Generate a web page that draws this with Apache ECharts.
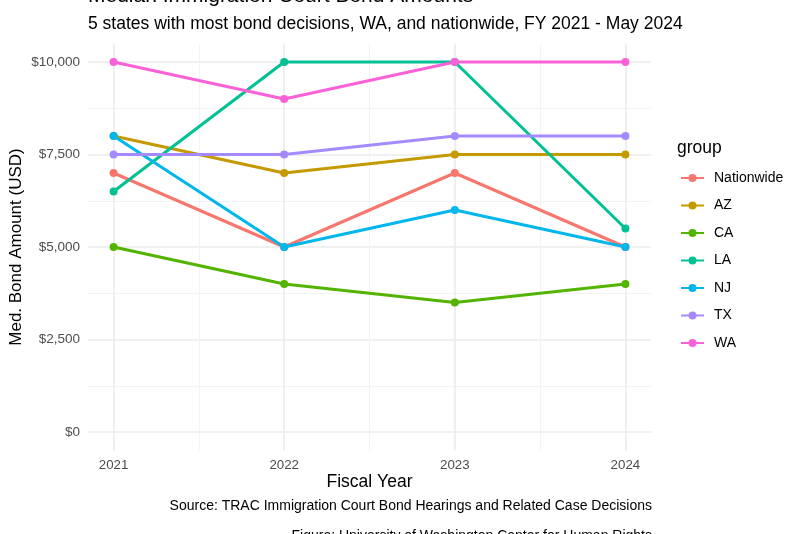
<!DOCTYPE html>
<html>
<head>
<meta charset="utf-8">
<title>Median Immigration Court Bond Amounts</title>
<script src="https://cdn.jsdelivr.net/npm/echarts@6/dist/echarts.min.js"></script>
<style>
    html, body { margin: 0; padding: 0; background: #fff; }
    #main { width: 800px; height: 534px; }
</style>
</head>
<body>
<div id="main"></div>
<script>
// 数据
var years = [2021, 2022, 2023, 2024];
var groups = ['Nationwide', 'AZ', 'CA', 'LA', 'NJ', 'TX', 'WA'];
var nationwide = [7000, 5000, 7000, 5000];
var az = [8000, 7000, 7500, 7500];
var ca = [5000, 4000, 3500, 4000];
var la = [6500, 10000, 10000, 5500];
var nj = [8000, 5000, 6000, 5000];
var tx = [7500, 7500, 8000, 8000];
var wa = [10000, 9000, 10000, 10000];
var yTicks = [0, 2500, 5000, 7500, 10000];
var yMinor = [1250, 3750, 6250, 8750];
var xMinor = [2021.5, 2022.5, 2023.5];

var groupValues = [nationwide, az, ca, la, nj, tx, wa];
var colors = ['#F8766D', '#C49A00', '#53B400', '#00C094', '#00B6EB', '#A58AFF', '#FB61D7'];
var font = 'Liberation Sans, Arial, sans-serif';

var myChart = echarts.init(document.getElementById('main'));

var series = [];
for (var i = 0; i < groups.length; i++) {
    var pts = [];
    for (var j = 0; j < years.length; j++) {
        pts.push([years[j], groupValues[i][j]]);
    }
    series.push({
        name: groups[i],
        type: 'line',
        data: pts,
        symbol: 'circle',
        symbolSize: 8,
        lineStyle: { width: 3, color: colors[i] },
        itemStyle: { color: colors[i] },
        emphasis: { disabled: true },
        animation: false
    });
}

function dollar(v) {
    return '$' + v.toString().replace(/\B(?=(\d{3})+(?!\d))/g, ',');
}

var option = {
    backgroundColor: '#fff',
    animation: false,
    title: [{
        text: 'Median Immigration Court Bond Amounts',
        left: 88,
        top: -14,
        padding: 0,
        textStyle: { fontFamily: font, fontSize: 21, fontWeight: 'normal', color: '#000' }
    }, {
        text: '5 states with most bond decisions, WA, and nationwide, FY 2021 - May 2024',
        left: 88,
        top: 15,
        padding: 0,
        textStyle: { fontFamily: font, fontSize: 17.5, fontWeight: 'normal', color: '#000' }
    }],
    legend: {
        orient: 'vertical',
        left: 680,
        top: 171,
        padding: 0,
        itemWidth: 23,
        itemHeight: 10,
        itemGap: 13.5,
        data: groups,
        textStyle: { fontFamily: font, fontSize: 14, lineHeight: 14, color: '#000', padding: [0, 0, 0, 5] }
    },
    grid: { left: 88, right: 149, top: 43.5, bottom: 83.5, containLabel: false, outerBoundsMode: 'none' },
    xAxis: [{
        type: 'value',
        min: 2020.85,
        max: 2024.15,
        name: 'Fiscal Year',
        nameLocation: 'middle',
        nameGap: 23,
        nameMoveOverlap: false,
        nameTextStyle: { fontFamily: font, fontSize: 17.5, color: '#000' },
        axisLine: { show: false },
        axisTick: { show: false, customValues: years },
        axisLabel: { customValues: years, margin: 8, fontFamily: font, fontSize: 13.3, color: '#4D4D4D', formatter: function (v) { return String(v); } },
        splitLine: { show: true, lineStyle: { color: '#EBEBEB', width: 1.6 } }
    }, {
        type: 'value',
        min: 2020.85,
        max: 2024.15,
        position: 'bottom',
        axisLine: { show: false },
        axisTick: { show: false, customValues: xMinor },
        axisLabel: { show: false, customValues: xMinor },
        splitLine: { show: true, lineStyle: { color: '#F2F2F2', width: 0.9 } }
    }],
    yAxis: [{
        type: 'value',
        min: -500,
        max: 10500,
        name: 'Med. Bond Amount (USD)',
        nameLocation: 'middle',
        nameGap: 63,
        nameMoveOverlap: false,
        nameTextStyle: { fontFamily: font, fontSize: 17, color: '#000' },
        axisLine: { show: false },
        axisTick: { show: false, customValues: yTicks },
        axisLabel: { customValues: yTicks, margin: 8, fontFamily: font, fontSize: 13.5, color: '#4D4D4D', formatter: dollar },
        splitLine: { show: true, lineStyle: { color: '#EBEBEB', width: 1.6 } }
    }, {
        type: 'value',
        min: -500,
        max: 10500,
        position: 'left',
        offset: 0,
        axisLine: { show: false },
        axisTick: { show: false, customValues: yMinor },
        axisLabel: { show: false, customValues: yMinor },
        splitLine: { show: true, lineStyle: { color: '#F2F2F2', width: 0.9 } }
    }],
    graphic: [{
        type: 'text',
        left: 677,
        top: 139,
        style: { text: 'group', fontFamily: font, fontSize: 17.5, fill: '#000' }
    }, {
        type: 'text',
        right: 148,
        top: 499,
        style: { text: 'Source: TRAC Immigration Court Bond Hearings and Related Case Decisions', fontFamily: font, fontSize: 14, fill: '#000' }
    }, {
        type: 'text',
        right: 148,
        top: 529,
        style: { text: 'Figure: University of Washington Center for Human Rights', fontFamily: font, fontSize: 14, fill: '#000' }
    }],
    series: series
};

myChart.setOption(option);
</script>
</body>
</html>
